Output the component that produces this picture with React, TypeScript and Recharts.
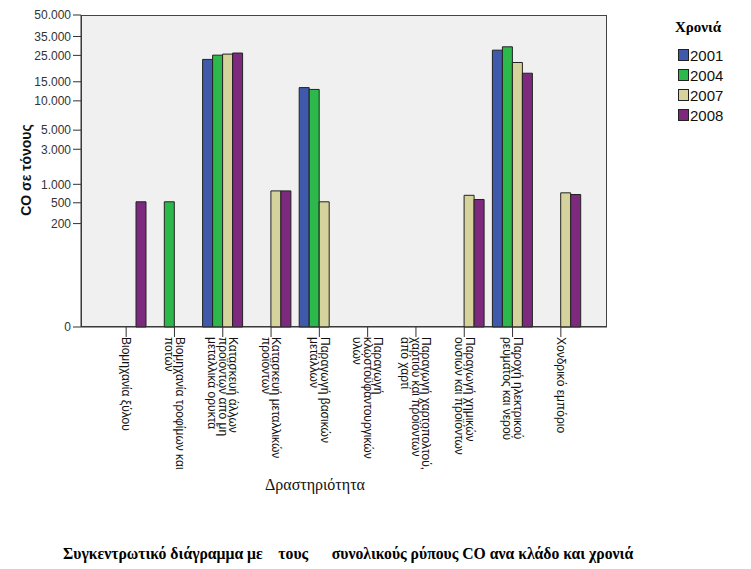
import React from "react"
import {
  BarChart,
  Bar,
  XAxis,
  YAxis,
  Legend,
} from "recharts"

// categories (tick labels, \n = line break as in the original)
const categories = [
  "Βιομηχανία ξύλου",
  "Βιομηχανία τροφίμων και\nποτών",
  "Κατασκευή άλλων\nπροϊόντων από μη\nμεταλλικά ορυκτά",
  "Κατασκευή μεταλλικών\nπροϊόντων",
  "Παραγωγή βασικών\nμετάλλων",
  "Παραγωγή\nκλωστοϋφαντουργικών\nυλών",
  "Παραγωγή χαρτοπολτού,\nχαρτιού και προϊόντων\nαπό χαρτί",
  "Παραγωγή χημικών\nουσιών και προϊόντων",
  "Παροχή ηλεκτρικού\nρεύματος και νερού",
  "Χονδρικό εμπόριο",
]

// CO σε τόνους, per year
const y2001 = [null, null, 23200, null, 13300, null, null, null, 27500, null]
const y2004 = [null, 520, 25100, null, 12800, null, null, null, 29200, null]
const y2007 = [null, null, 25600, 790, 520, null, null, 670, 21900, 735]
const y2008 = [520, null, 26100, 790, null, null, null, 570, 17800, 690]

const years = ["2001", "2004", "2007", "2008"]
const colors = ["#3f5aaa", "#2db84b", "#d6d29c", "#7d2a7e"]

const yTicks = [0, 200, 500, 1000, 3000, 5000, 10000, 15000, 25000, 35000, 50000]

const SERIF = "'Liberation Serif', 'Times New Roman', serif"
const SANS = "'Liberation Sans', Arial, sans-serif"

// power scale (exponent 0.2), as in the SPSS output
const EXP = 0.2
const fwd = (v: number | null) => (v == null ? null : Math.pow(v, EXP))
const back = (v: number) => Math.round(Math.pow(v, 1 / EXP))
const fmt = (v: number) => v.toString().replace(/\B(?=(\d{3})+(?!\d))/g, ".")

const data = categories.map((name, i) => ({
  name,
  "2001": fwd(y2001[i]),
  "2004": fwd(y2004[i]),
  "2007": fwd(y2007[i]),
  "2008": fwd(y2008[i]),
}))

function CategoryTick({ x, y, payload }: any) {
  const lines = String(payload.value).split("\n")
  const lh = 10.5
  return (
    <g transform={`translate(${x},${y - 2}) rotate(90)`}>
      <text fontSize={12} fontFamily={SANS} fill="#111">
        {lines.map((l, i) => (
          <tspan key={i} x={0} y={i * lh - ((lines.length - 1) * lh) / 2 + 4}>
            {l}
          </tspan>
        ))}
      </text>
    </g>
  )
}

function YearLegend() {
  return (
    <div style={{ fontFamily: SANS }}>
      <div style={{ fontFamily: SERIF, fontWeight: "bold", fontSize: 15, lineHeight: "20px" }}>
        Χρονιά
      </div>
      <div style={{ marginTop: 8 }}>
        {years.map((yr, i) => (
          <div key={yr} style={{ display: "flex", alignItems: "center", height: 20 }}>
            <div
              style={{
                marginLeft: 3,
                width: 11,
                height: 12,
                boxSizing: "border-box",
                border: "1px solid #222",
                background: colors[i],
              }}
            />
            <span style={{ fontSize: 15, marginLeft: 1, color: "#111" }}>{yr}</span>
          </div>
        ))}
      </div>
    </div>
  )
}

export default function App() {
  return (
    <div
      style={{
        position: "absolute",
        left: 0,
        top: 0,
        width: 751,
        height: 569,
        background: "#fff",
      }}
    >
      {/* plot background + frame */}
      <div
        style={{
          position: "absolute",
          left: 81,
          top: 15,
          width: 526,
          height: 312,
          boxSizing: "border-box",
          background: "#f0f0f0",
          border: "1px solid #444",
        }}
      />
      <div style={{ position: "absolute", left: 0, top: 0 }}>
        <BarChart
          width={751}
          height={569}
          data={data}
          margin={{ top: 15, right: 144, left: 0, bottom: 82 }}
          barCategoryGap={4}
          barGap={0}
        >
          <XAxis
            dataKey="name"
            interval={0}
            height={160}
            tickSize={10}
            padding={{ left: 21, right: 22 }}
            tick={<CategoryTick />}
            stroke="#333"
          />
          <YAxis
            type="number"
            width={81}
            domain={[0, fwd(50000) as number]}
            ticks={yTicks.map((t) => fwd(t) as number)}
            tickFormatter={(v: number) => fmt(back(v))}
            tickSize={8}
            interval={0}
            stroke="#333"
            tick={{ fontSize: 12, fill: "#333", fontFamily: SANS }}
          />
          <Legend
            layout="horizontal"
            verticalAlign="middle"
            align="center"
            wrapperStyle={{ left: 675, top: 17, width: 76 }}
            content={() => <YearLegend />}
          />
          {years.map((yr, i) => (
            <Bar
              key={yr}
              dataKey={yr}
              fill={colors[i]}
              stroke="#222"
              strokeWidth={1}
              isAnimationActive={false}
            />
          ))}
        </BarChart>
      </div>
      {/* y axis title */}
      <div
        style={{
          position: "absolute",
          left: 26,
          top: 170,
          transform: "translate(-50%, -50%) rotate(-90deg)",
          whiteSpace: "nowrap",
          fontFamily: SANS,
          fontWeight: "bold",
          fontSize: 14,
          color: "#111",
        }}
      >
        CO σε τόνους
      </div>
      {/* x axis title */}
      <div
        style={{
          position: "absolute",
          left: 265,
          top: 476,
          lineHeight: "18px",
          fontFamily: SERIF,
          fontSize: 16,
          color: "#111",
        }}
      >
        Δραστηριότητα
      </div>
      {/* caption */}
      <div
        style={{
          position: "absolute",
          left: 63,
          top: 545,
          lineHeight: "18px",
          whiteSpace: "pre",
          fontFamily: SERIF,
          fontWeight: "bold",
          fontSize: 15.7,
          color: "#000",
        }}
      >
        {"Συγκεντρωτικό διάγραμμα με    τους      συνολικούς ρύπους CO ανα κλάδο και χρονιά"}
      </div>
    </div>
  )
}
